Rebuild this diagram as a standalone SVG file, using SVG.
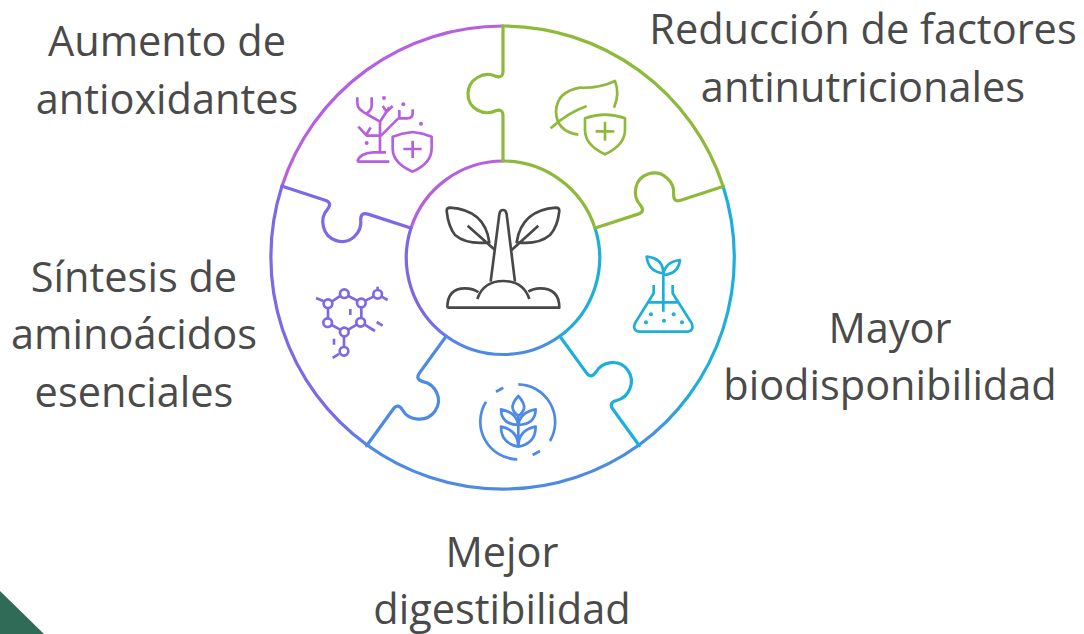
<svg xmlns="http://www.w3.org/2000/svg" width="1084" height="634" viewBox="0 0 1084 634">
<style>
.t{font-family:"Open Sans","Liberation Sans",sans-serif;font-size:41.5px;fill:#4a4a4a;text-anchor:middle}
.s{fill:none;stroke-width:3.2;stroke-linecap:round;stroke-linejoin:round}
.i{fill:none;stroke-width:8;stroke-linecap:butt;stroke-linejoin:round}
.purple{stroke:#b65fe0}.green{stroke:#8fb93b}.cyan{stroke:#1eaedb}.blue{stroke:#4d8ae6}.violet{stroke:#7d68e6}.dark{stroke:#484848}
</style>
<defs>
<linearGradient id="oR" gradientUnits="userSpaceOnUse" x1="639" y1="445" x2="690" y2="385"><stop offset="0" stop-color="#4d8ae6"/><stop offset="1" stop-color="#1eaedb"/></linearGradient>
<linearGradient id="oL" gradientUnits="userSpaceOnUse" x1="367" y1="445" x2="330" y2="405"><stop offset="0" stop-color="#5a80e6"/><stop offset="1" stop-color="#7d68e6"/></linearGradient>
<linearGradient id="iL" gradientUnits="userSpaceOnUse" x1="411" y1="228" x2="446" y2="336"><stop offset="0" stop-color="#7d68e6"/><stop offset=".7" stop-color="#8064e0"/><stop offset="1" stop-color="#6a78e4"/></linearGradient>
<linearGradient id="iB" gradientUnits="userSpaceOnUse" x1="446" y1="336" x2="560" y2="336"><stop offset="0" stop-color="#5f7fe6"/><stop offset=".3" stop-color="#4d8ae6"/><stop offset=".8" stop-color="#4d8ae6"/><stop offset="1" stop-color="#3a98e0"/></linearGradient>
<linearGradient id="iR" gradientUnits="userSpaceOnUse" x1="560" y1="336" x2="595" y2="228"><stop offset="0" stop-color="#2aa6dc"/><stop offset=".4" stop-color="#1eaedb"/><stop offset="1" stop-color="#1eaedb"/></linearGradient>
<path id="knob" d="M503 26V71Q503 79 495 76C484 71 468 79 468 94C468 109 484 116 495 111Q503 108 503 116V161"/>
</defs>
<rect width="1084" height="634" fill="#ffffff"/>
<polygon id="corner" points="0,591 44,634 0,634" fill="#2f6b57"/>
<g id="connectors">
<path class="s purple" d="M282 186A232 232 0 0 1 503 26"/>
<path class="s purple" d="M411 228A97 97 0 0 1 503 161"/>
<path class="s" d="M367 445A232 232 0 0 1 282 186" style="stroke:url(#oL)"/>
<path class="s" d="M446 336A97 97 0 0 1 411 228" style="stroke:url(#iL)"/>
<path class="s blue" d="M639 445A232 232 0 0 1 367 445"/>
<path class="s" d="M560 336A97 97 0 0 1 446 336" style="stroke:url(#iB)"/>
<path class="s" d="M723 186A232 232 0 0 1 639 445" style="stroke:url(#oR)"/>
<path class="s" d="M595 228A97 97 0 0 1 560 336" style="stroke:url(#iR)"/>
<path class="s green" d="M503 26A232 232 0 0 1 723 186"/>
<path class="s green" d="M503 161A97 97 0 0 1 595 228"/>
<use href="#knob" class="s violet" transform="rotate(-72 503 258)"/>
<use href="#knob" class="s blue" transform="rotate(-144 503 258)"/>
<use href="#knob" class="s cyan" transform="rotate(144 503 258)"/>
<use href="#knob" class="s green" transform="rotate(72 503 258)"/>
<use href="#knob" class="s green"/>
</g>
<g id="node-antioxidantes">
<g transform="translate(270 20) scale(.3333)" class="i purple">
<path d="M330 395V305L290 282Q262 268 262 250V232M305 232V258Q305 270 290 280M330 305L358 262M338 258L350 275M368 258L350 275M330 350L385 295M388 270V295H412Q428 295 428 280V268M265 320L290 347H330M302 322L290 342M262 425H358M262 425Q268 400 310 397H348"/>
<path d="M428 336Q460 340 485 350V385Q485 430 428 455Q368 430 368 385V350Q395 340 428 336ZM428 362V414M400 387H455"/>
<g fill="#b65fe0" stroke="none"><circle cx="342" cy="234" r="6"/><circle cx="400" cy="253" r="6"/><circle cx="453" cy="311" r="6"/><circle cx="290" cy="369" r="6"/></g>
</g>
<text class="t" x="167" y="56">Aumento de</text><text class="t" x="167" y="114">antioxidantes</text>
</g>
<g id="node-factores">
<g transform="translate(500 20) scale(.3333)" class="i green">
<path d="M235 344Q170 335 168 275Q170 215 240 203Q300 205 345 183Q360 220 342 263M152 325Q200 280 260 258"/>
<path d="M315 284Q345 284 375 295V330Q375 375 315 403Q255 375 255 330V295Q285 284 315 284ZM315 305V362M287 334H343"/>
</g>
<text class="t" x="863" y="44">Reducción de factores</text><text class="t" x="863" y="102">antinutricionales</text>
</g>
<g id="node-biodisponibilidad">
<g transform="translate(500 250) scale(.3333)" class="i cyan">
<path d="M490 185V70M490 70Q445 65 440 20Q490 25 490 70ZM490 75Q495 35 540 30Q535 72 490 75ZM461 105V130L405 220Q395 245 425 245H555Q585 245 575 220L518 130V105M447 157H532"/>
<g fill="#1eaedb" stroke="none"><circle cx="453" cy="193" r="6"/><circle cx="521" cy="193" r="6"/><circle cx="438" cy="217" r="6"/><circle cx="492" cy="212" r="6"/><circle cx="546" cy="217" r="6"/></g>
</g>
<text class="t" x="890" y="343">Mayor</text><text class="t" x="890" y="400">biodisponibilidad</text>
</g>
<g id="node-digestibilidad">
<path class="blue" fill="none" stroke-width="2.7" d="M518.3 384.3A37.7 37.7 0 0 1 550 441M540 451L532.7 455M517.3 459.3A37.7 37.7 0 0 1 486 401.7M496 391.7L503.3 387.7"/>
<g transform="translate(470 375) scale(.3333)" class="i blue">
<path d="M145 63Q125 85 128 100Q132 115 145 122Q158 115 162 100Q165 85 145 63ZM145 215V122"/>
<path d="M145 150Q150 112 197 103Q197 148 145 150ZM145 150Q140 112 93 103Q93 148 145 150Z"/>
<path d="M145 215Q145 165 197 155Q197 205 145 215ZM145 215Q145 165 93 155Q93 205 145 215Z"/>
</g>
<text class="t" x="502" y="567">Mejor</text><text class="t" x="502" y="624">digestibilidad</text>
</g>
<g id="node-aminoacidos">
<g transform="translate(270 250) scale(.3333)" class="i violet">
<circle cx="223" cy="131" r="13"/><circle cx="274" cy="159" r="13"/><circle cx="272" cy="217" r="13"/><circle cx="223" cy="246" r="13"/><circle cx="173" cy="218" r="13"/><circle cx="174" cy="161" r="13"/><circle cx="323" cy="133" r="13"/><circle cx="222" cy="304" r="13"/>
<path d="M186 154L211 138M235 138L262 152M274 172V204M260 224L235 239M211 239L185 225M174 205V174M286 152L312 139M138 144L160 153M323 110V120M335 140L353 150M284 224L315 243M320 216L338 227M222 259V291M207 312L188 324M241 177V195M192 266V284"/>
</g>
<text class="t" x="134" y="292">Síntesis de</text><text class="t" x="134" y="349">aminoácidos</text><text class="t" x="134" y="407">esenciales</text>
</g>
<g id="node-center">
<g transform="translate(400 155) scale(.3333)" class="i dark">
<path d="M272 380L298 178Q300 165 309 165Q318 165 320 178L345 380"/>
<path d="M140 168Q140 158 150 158Q255 165 268 262Q200 270 165 240Q145 215 140 168ZM203 212L285 285"/>
<path d="M478 168Q478 158 468 158Q365 165 350 262Q415 270 450 240Q473 215 478 168ZM415 212L335 285"/>
<path d="M142 458H478Q478 400 420 400Q400 400 385 410M142 458Q142 400 195 400Q220 400 235 412M232 432Q250 378 310 378Q370 378 388 432"/>
</g>
</g>
</svg>
